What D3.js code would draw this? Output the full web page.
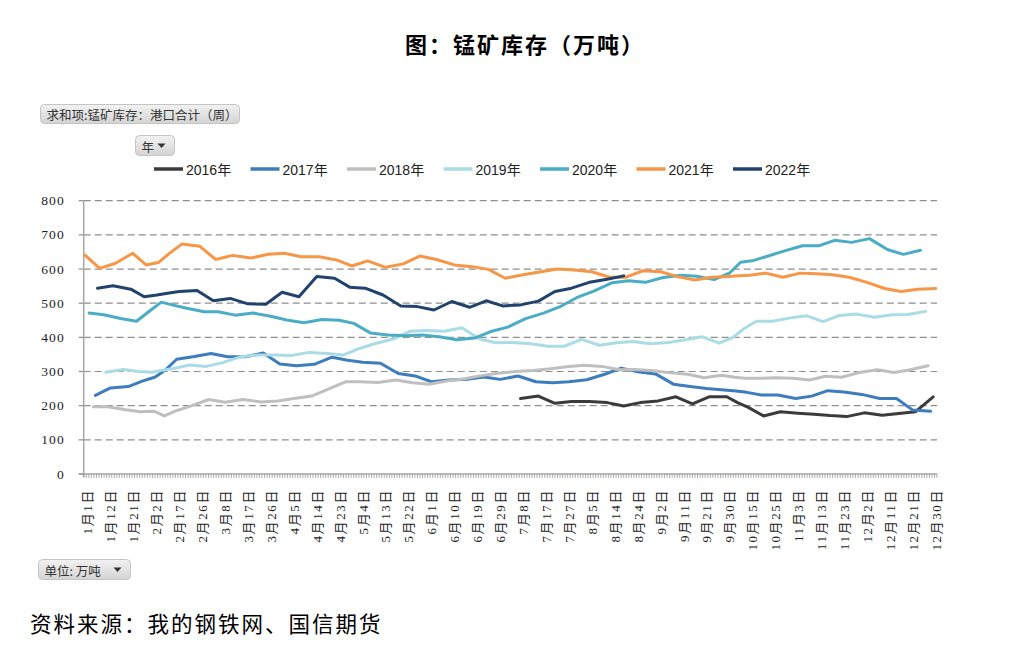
<!DOCTYPE html>
<html><head><meta charset="utf-8">
<script src="https://cdn.jsdelivr.net/npm/d3@7"></script>
<style>body{margin:0;background:#fff} svg{display:block}</style>
</head><body>
<svg id="c" width="1011" height="647"></svg>
<script>
// ---------------- data ----------------
const seriesNames = ["2016年","2017年","2018年","2019年","2020年","2021年","2022年"];
const seriesColors = ["#3b3b3b","#3d7dbd","#bfbfbf","#a9dce6","#4bacc6","#f79646","#22426e"];
// first weekly report date of each year (points are one week apart)
const startDates = ["2016-07-08","2017-01-06","2018-01-05","2019-01-11","2020-01-03","2021-01-01","2022-01-07"];

const v2016 = [221,228,207,212,212,209,199,209,214,226,205,226,226,209,195,170,182,178,175,171,168,179,172,177,182,226];
const v2017 = [230,252,256,272,284,306,336,344,353,343,343,354,322,317,321,342,333,327,324,294,287,270,275,277,284,277,287,270,267,270,276,292,310,299,293,263,256,250,246,243,239,231,231,221,228,244,240,233,221,221,187,184];
const v2018 = [197,197,188,182,184,170,184,200,218,210,218,211,214,221,228,250,270,270,268,275,267,263,272,279,288,295,300,303,308,314,318,315,305,306,302,296,292,282,289,283,280,280,282,280,275,286,283,297,305,297,305,317];
const v2019 = [298,306,300,298,304,309,319,315,326,343,348,348,347,356,353,348,366,382,395,418,420,418,428,396,384,385,381,374,374,394,377,384,388,381,385,393,402,383,400,425,447,447,457,463,446,464,468,459,466,467,476];
const v2020 = [471,466,455,447,478,503,495,485,475,475,465,471,462,451,443,452,450,441,413,407,405,407,402,393,398,417,430,455,471,489,516,536,560,566,561,575,582,579,569,589,620,624,638,654,668,668,684,678,689,657,643,655];
const v2021 = [641,602,617,646,612,619,645,673,667,628,640,632,643,646,636,636,626,609,624,605,615,638,628,612,607,599,573,583,592,600,597,592,576,576,595,592,577,568,576,578,580,582,588,576,588,586,583,576,561,543,534,541,543];
const v2022 = [544,551,541,519,524,529,534,537,507,514,498,497,532,519,578,573,547,544,524,492,490,480,505,488,507,492,495,506,534,544,561,570,580];
const seriesValues = [v2016,v2017,v2018,v2019,v2020,v2021,v2022];

const xLabels = ["1月1日","1月12日","1月21日","2月2日","2月17日","2月26日","3月8日","3月17日","3月26日","4月5日","4月14日","4月23日","5月4日","5月13日","5月22日","6月1日","6月10日","6月19日","6月29日","7月8日","7月17日","7月27日","8月5日","8月14日","8月24日","9月2日","9月11日","9月21日","9月30日","10月15日","10月25日","11月3日","11月13日","11月23日","12月2日","12月11日","12月21日","12月30日"];
const yTicks = [0,100,200,300,400,500,600,700,800];

const titleText = "图：锰矿库存（万吨）";
const sourceText = "资料来源：我的钢铁网、国信期货";
const fieldButton1 = "求和项:锰矿库存：港口合计（周）";
const fieldButton2 = "年";
const fieldButton3 = "单位: 万吨";

// ---------------- helpers ----------------
const DAY = 864e5;
function doyOf(m, d){ return (Date.UTC(2021, m-1, d) - Date.UTC(2021,0,1))/DAY + 1; }
const labelDoys = xLabels.map(s => { const m = s.match(/(\d+)月(\d+)日/); return doyOf(+m[1], +m[2]); });

const svg = d3.select("#c");
const nCats = 335, catsPerLabel = 9;
const plotL = 83.7, plotR = 937, plotT = 200.7, plotB = 474;
const cat = d3.scaleLinear().domain([0, nCats]).range([plotL, plotR]);
const x = d3.scaleLinear().domain(labelDoys).range(labelDoys.map((_, i) => cat(i*catsPerLabel + 0.5)));
const y = d3.scaleLinear().domain([0, 800]).range([plotB, plotT]);

// ---------------- title ----------------
svg.append("text").attr("x", 405).attr("y", 43).attr("dominant-baseline","central")
  .style("font-family","'Noto Sans CJK SC'").style("font-weight","700").style("font-size","22px").style("letter-spacing","2px")
  .attr("fill","#000").text(titleText);

// ---------------- field buttons ----------------
const defs = svg.append("defs");
const grad = defs.append("linearGradient").attr("id","btn").attr("x1",0).attr("y1",0).attr("x2",0).attr("y2",1);
grad.append("stop").attr("offset","0%").attr("stop-color","#f2f2f2");
grad.append("stop").attr("offset","100%").attr("stop-color","#d4d4d4");
function button(x0, y0, w, h, label, arrow){
  const g = svg.append("g");
  g.append("rect").attr("x",x0).attr("y",y0).attr("width",w).attr("height",h).attr("rx",4)
    .attr("fill","url(#btn)").attr("stroke","#c4c4c4").attr("stroke-width",1);
  g.append("text").attr("x",x0+6).attr("y",y0+h/2+0.5).attr("dominant-baseline","central")
    .style("font-family","'Noto Sans CJK SC'").style("font-size","12.5px").attr("fill","#333").text(label);
  if(arrow){
    const ax = x0 + w - 13, ay = y0 + h/2;
    g.append("path").attr("d",`M${ax-4},${ay-2}L${ax+4},${ay-2}L${ax},${ay+2.5}Z`).attr("fill","#333");
  }
}
button(40.5, 104.5, 199, 19, fieldButton1, false);
button(135.5, 135.5, 39, 20, fieldButton2, true);
button(38.5, 559.5, 92, 20, fieldButton3, true);

// ---------------- legend ----------------
const leg = svg.append("g");
seriesNames.forEach((name, i) => {
  const lx = 154 + i*96.5;
  leg.append("line").attr("x1",lx).attr("x2",lx+29).attr("y1",169).attr("y2",169)
    .attr("stroke",seriesColors[i]).attr("stroke-width",3.5);
  leg.append("text").attr("x",lx+32).attr("y",169.5).attr("dominant-baseline","central")
    .style("font-family","'Liberation Sans','Noto Sans CJK SC'").style("font-size","14px").attr("fill","#222").text(name);
});

// ---------------- grid & axes ----------------
const grid = svg.append("g");
yTicks.filter(t => t > 0).forEach(t => {
  grid.append("line").attr("x1",plotL).attr("x2",plotR).attr("y1",y(t)).attr("y2",y(t))
    .attr("stroke","#8f8f8f").attr("stroke-width",1.2).attr("stroke-dasharray","7,4");
});
yTicks.forEach(t => {
  grid.append("line").attr("x1",plotL-5).attr("x2",plotL).attr("y1",y(t)).attr("y2",y(t)).attr("stroke","#8f8f8f").attr("stroke-width",1.2);
  svg.append("text").attr("x",65).attr("y",y(t)).attr("text-anchor","end").attr("dominant-baseline","central")
    .style("font-family","'Liberation Serif'").style("font-size","13.5px").style("letter-spacing","1.2px").attr("fill","#222").text(t);
});
// y axis line
svg.append("line").attr("x1",plotL).attr("x2",plotL).attr("y1",plotT).attr("y2",plotB+3).attr("stroke","#a6a6a6").attr("stroke-width",1.5);
// x axis line + dense category ticks
svg.append("line").attr("x1",plotL-5).attr("x2",plotR).attr("y1",plotB).attr("y2",plotB).attr("stroke","#a6a6a6").attr("stroke-width",1.5);
svg.append("g").selectAll("line").data(d3.range(nCats+1)).join("line")
  .attr("x1", k => cat(k)).attr("x2", k => cat(k)).attr("y1", plotB).attr("y2", plotB+4)
  .attr("stroke","#9a9a9a").attr("stroke-width",0.8);
// x labels
svg.append("g").selectAll("text").data(xLabels).join("text")
  .attr("transform", (d,i) => `translate(${cat(i*catsPerLabel+0.5)+3},489) rotate(-90)`)
  .attr("text-anchor","end").attr("dominant-baseline","central")
  .style("font-family","'Liberation Serif','Noto Sans CJK SC'").style("font-size","13px").style("letter-spacing","1.6px")
  .attr("fill","#222").text(d => d);

// ---------------- series lines ----------------
const line = d3.line().x(d => x(d.doy)).y(d => y(d.v));
seriesValues.forEach((vals, si) => {
  const s = new Date(startDates[si] + "T00:00:00Z").getTime();
  const pts = vals.map((v, i) => { const dt = new Date(s + i*7*DAY); return {doy: doyOf(dt.getUTCMonth()+1, dt.getUTCDate()), v}; });
  svg.append("path").datum(pts).attr("d", line).attr("fill","none")
    .attr("stroke", seriesColors[si]).attr("stroke-width", 3).attr("stroke-linejoin","round").attr("stroke-linecap","round");
});

// ---------------- source ----------------
svg.append("text").attr("x",30).attr("y",622).attr("dominant-baseline","central")
  .style("font-family","'Noto Sans CJK SC'").style("font-size","21.5px").style("letter-spacing","2px").attr("fill","#000").text(sourceText);
</script>
</body></html>
